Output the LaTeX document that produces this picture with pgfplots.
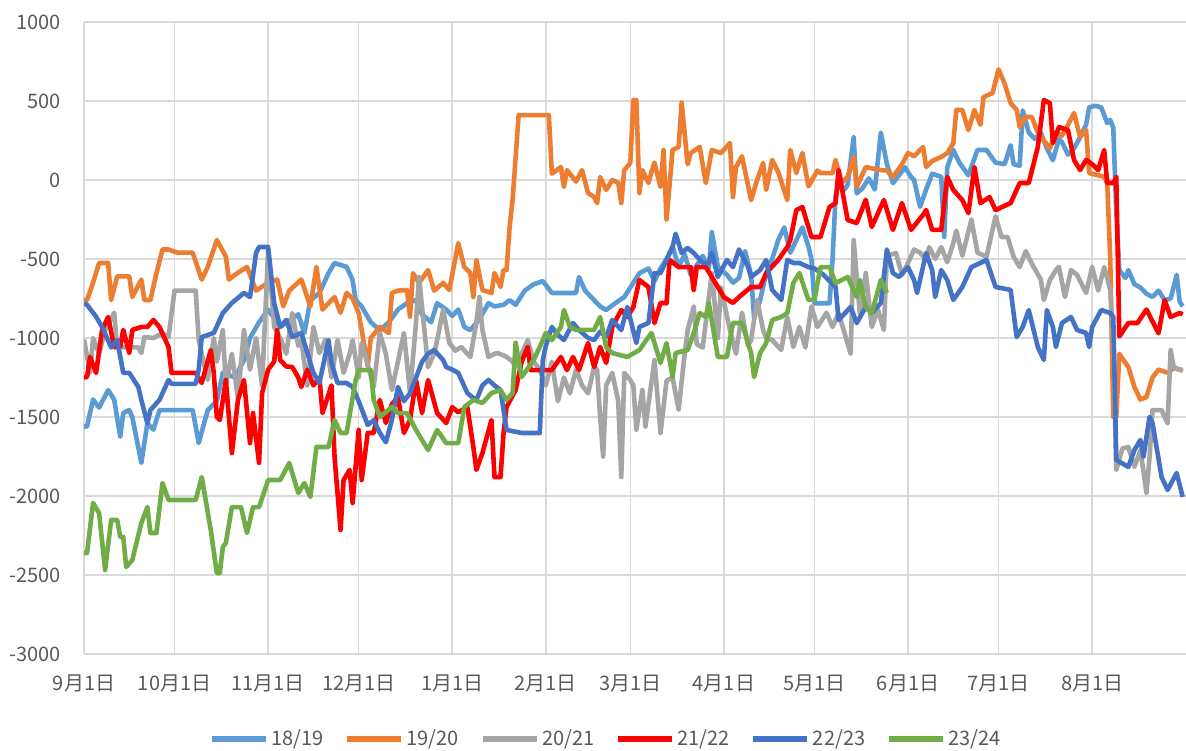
\documentclass[border=0pt]{standalone}
\usepackage{fontspec}
\setmainfont{Noto Sans CJK SC}
\usepackage{pgfplots}
\pgfplotsset{compat=1.18}
\definecolor{c1819}{HTML}{5B9BD5}
\definecolor{c1920}{HTML}{ED7D31}
\definecolor{c2021}{HTML}{A5A5A5}
\definecolor{c2122}{HTML}{FF0000}
\definecolor{c2223}{HTML}{4472C4}
\definecolor{c2324}{HTML}{70AD47}
\definecolor{txt}{HTML}{595959}
\definecolor{grd}{HTML}{D9D9D9}
\begin{document}
\begin{tikzpicture}
\path[use as bounding box] (-42pt,-48pt) rectangle (551pt,327pt);
\begin{axis}[
  scale only axis, width=551pt, height=316pt,
  xmin=0, xmax=365.1, ymin=-3000, ymax=1000,
  xtick={0,30,61,91,122,153,181,212,242,273,303,334},
  xticklabels={9月1日,10月1日,11月1日,12月1日,1月1日,2月1日,3月1日,4月1日,5月1日,6月1日,7月1日,8月1日},
  ytick={-3000,-2500,-2000,-1500,-1000,-500,0,500,1000},
  /pgf/number format/assume math mode=true,
  /pgf/number format/1000 sep={},
  axis line style={draw=none},
  tick style={draw=none},
  grid=major, grid style={grd, line width=0.8pt},
  tick label style={font=\fontsize{10}{12}\selectfont, text=txt},
  yticklabel style={xshift=-8pt},
  xticklabel style={yshift=-7pt},
  legend columns=6,
  legend style={at={(0.474,-0.1345)}, anchor=center, draw=none, fill=none,
    font=\fontsize{10}{12}\selectfont, text=txt,
    /tikz/every even column/.append style={column sep=9pt},
    nodes={inner xsep=1.5pt},
    inner sep=0pt},
  legend image code/.code={\draw[#1, line width=2.6pt] (0pt,0pt) -- (27pt,0pt);},
  every axis plot/.append style={line width=2.3pt, line join=round, mark=none},
]
\addplot[c1819] coordinates {
(0,-1560)(1,-1560)(3,-1390)(5,-1440)(8,-1330)(10,-1390)(12,-1625)(13,-1475)(15,-1456)(16,-1500)(19,-1790)(21,-1540)(23,-1580)(25,-1456)(30,-1456)(36,-1456)(38,-1665)(41,-1456)(44,-1400)(46,-1220)(50,-1250)(53,-1140)(55,-1000)(58,-900)(61,-820)(65,-930)(71,-850)(73,-970)(75,-760)(78,-715)(81,-590)(83,-525)(87,-550)(89,-633)(90,-760)(92,-800)(95,-900)(98,-950)(101,-900)(104,-820)(107,-780)(110,-760)(112,-850)(115,-900)(117,-780)(120,-820)(122,-860)(124,-820)(126,-930)(128,-950)(131,-880)(134,-780)(136,-800)(139,-790)(141,-760)(143,-790)(146,-700)(149,-660)(152,-640)(155,-715)(160,-715)(163,-715)(164,-614)(166,-700)(168,-740)(171,-800)(173,-823)(176,-780)(179,-740)(182,-650)(184,-590)
(187,-560)(189,-640)(191,-560)(193,-500)(195,-420)(197,-550)(199,-470)(201,-600)(203,-540)(205,-480)(207,-560)(208,-330)(210,-550)(213,-600)(215,-650)(217,-620)(219,-450)(221,-600)(222,-870)(224,-760)(226,-590)(228,-500)(230,-380)(232,-300)(234,-460)(236,-380)(238,-300)(240,-420)(241,-500)(242,-780)(245,-780)(247,-780)(248,-500)(249,-100)(250,-20)(252,-60)(253,-30)(255,270)(256,-85)(258,-50)(260,10)(262,-60)(264,300)(266,100)(268,-20)(270,30)(272,80)(274,20)(275,0)(277,-170)(279,-60)(281,40)(284,20)(285,-360)(286,80)(288,190)(290,110)(293,30)(296,190)(299,190)(302,110)(305,100)(307,220)(308,100)(310,90)(311,440)(313,300)(315,260)(317,300)(319,200)(321,125)(323,260)(324,240)(326,160)(328,200)(330,270)(332,350)(333,460)(335,470)(337,460)(339,360)(340,380)(341,330)(342,-200)(343,-570)(345,-620)(346,-570)(348,-660)(350,-680)(352,-720)(354,-740)(356,-700)(358,-760)(360,-750)(362,-600)(363,-770)(364,-800)
};
\addlegendentry{18/19}
\addplot[c1920] coordinates {
(0,-760)(1,-760)(3,-650)(5,-525)(8,-525)(9,-760)(11,-610)(15,-610)(16,-740)(19,-630)(20,-760)(22,-760)(24,-590)(26,-440)(28,-440)(31,-460)(33,-460)(36,-460)(39,-630)(41,-550)(44,-380)(47,-485)(48,-630)(50,-600)(54,-550)(57,-700)(61,-650)(64,-630)(66,-800)(68,-700)(72,-630)(75,-800)(77,-550)(79,-820)(83,-741)(85,-840)(87,-715)(89,-750)(91,-842)(92,-950)(94,-1180)(95,-1000)(98,-930)(101,-968)(102,-715)(104,-700)(107,-696)(108,-865)(109,-590)(111,-652)(114,-570)(116,-700)(119,-652)(121,-696)(124,-400)(126,-551)(128,-589)(129,-741)(130,-506)(132,-696)(135,-715)(136,-589)(138,-677)(139,-570)(140,-570)(141,-300)(142,-125)(144,411)(150,411)(154,411)(155,40)(158,82)(159,-44)(160,63)(163,-10)(165,63)(167,-82)(169,-108)(170,-146)(171,19)(173,-63)(175,0)(177,-19)(178,-146)(179,63)(181,108)(182,506)(183,506)(184,-82)(185,63)(187,-19)(188,50)(189,110)(191,-44)(192,190)(193,-250)(195,190)(197,210)(198,490)(200,100)(201,170)(204,210)(206,-19)(208,190)(211,171)(214,234)(215,-108)(216,82)(218,150)(221,-127)(223,0)(225,108)(226,-63)(228,127)(230,50)(233,-127)(234,190)(236,44)(238,171)(240,-40)(243,60)(244,44)(248,44)(249,127)(251,-19)(253,20)(255,146)(256,-44)(259,82)(262,70)(264,63)(266,60)(268,19)(271,100)(273,171)(275,150)(278,209)(279,82)(281,120)(284,146)(286,170)(288,234)(289,443)(291,443)(293,316)(295,443)(297,350)(298,525)(301,550)(303,700)(305,610)(307,487)(309,443)(310,335)(312,399)(314,399)(316,300)(318,250)(320,200)(322,300)(324,280)(326,350)(328,424)(330,272)(332,316)(333,44)(336,30)(338,20)(339,-20)(340,-500)(341,-1500)(342,-1500)(343,-1100)(346,-1184)(348,-1310)(350,-1390)(352,-1373)(354,-1250)(356,-1200)(359,-1220)(361,-1190)(363,-1200)(364,-1200)
};
\addlegendentry{19/20}
\addplot[c2021] coordinates {
(0,-1010)(2,-1220)(3,-1000)(5,-1100)(7,-950)(10,-840)(11,-1060)(15,-1057)(18,-1060)(19,-1095)(20,-994)(23,-1000)(26,-970)(28,-994)(30,-700)(37,-700)(38,-1013)(39,-1100)(41,-1265)(43,-1000)(44,-1150)(46,-950)(47,-1300)(49,-1100)(51,-1380)(53,-950)(55,-1200)(57,-1000)(59,-1300)(61,-440)(63,-930)(65,-1000)(67,-1100)(69,-842)(71,-1050)(72,-1013)(74,-1300)(76,-930)(78,-1095)(80,-1010)(82,-1250)(84,-1013)(86,-1221)(88,-1100)(89,-1013)(91,-1250)(92,-1030)(96,-1310)(98,-968)(100,-1100)(102,-1329)(104,-1150)(106,-968)(108,-1348)(110,-900)(111,-614)(114,-1184)(116,-1100)(117,-1013)(119,-820)(121,-1030)(123,-1080)(125,-1057)(127,-1100)(128,-1120)(130,-900)(131,-741)(132,-950)(134,-1120)(136,-1100)(137,-1095)(139,-1110)(140,-1120)(142,-1150)(143,-1184)(145,-1100)(147,-1013)(149,-1150)(151,-1200)(153,-1300)(155,-1150)(157,-1400)(159,-1250)(161,-1350)(163,-1200)(165,-1300)(167,-1350)(169,-1184)(170,-1200)(171,-1500)(172,-1750)(173,-1300)(175,-1221)(177,-1400)(178,-1880)(179,-1221)(181,-1266)(182,-1300)(183,-1580)(185,-1329)(186,-1560)(189,-1140)(191,-1600)(193,-1270)(195,-1250)(197,-1455)(199,-1100)(200,-950)(202,-800)(203,-1040)(205,-1060)(206,-900)(208,-590)(210,-1000)(211,-680)(214,-950)(216,-1100)(218,-840)(220,-1050)(221,-1013)(223,-759)(225,-950)(226,-1000)(228,-1013)(231,-1076)(233,-867)(235,-1057)(237,-930)(239,-1060)(241,-800)(243,-930)(246,-840)(248,-930)(250,-842)(254,-1100)(255,-380)(257,-842)(259,-589)(261,-930)(263,-820)(265,-949)(266,-480)(269,-462)(271,-600)(273,-525)(275,-440)(277,-460)(279,-506)(280,-425)(282,-500)(284,-425)(286,-520)(288,-400)(289,-320)(291,-480)(294,-250)(296,-460)(299,-485)(302,-230)(304,-361)(306,-361)(308,-487)(310,-551)(312,-450)(314,-530)(317,-630)(318,-760)(320,-633)(322,-570)(323,-550)(325,-740)(327,-570)(329,-600)(332,-715)(334,-550)(336,-700)(338,-551)(340,-696)(341,-1000)(342,-1835)(344,-1700)(346,-1690)(348,-1816)(350,-1709)(352,-1980)(353,-1760)(354,-1456)(357,-1456)(359,-1540)(360,-1076)(361,-1184)(363,-1200)(364,-1210)
};
\addlegendentry{20/21}
\addplot[c2122] coordinates {
(0,-1250)(1,-1247)(2,-1120)(4,-1221)(6,-949)(8,-867)(10,-1057)(12,-1057)(13,-949)(15,-1095)(16,-949)(19,-930)(21,-930)(23,-886)(25,-930)(28,-1057)(29,-1221)(37,-1221)(39,-1285)(42,-1076)(43,-1221)(44,-1500)(45,-1519)(47,-1266)(49,-1728)(51,-1392)(53,-1266)(55,-1665)(56,-1475)(58,-1790)(59,-1350)(61,-1200)(63,-1150)(64,-949)(65,-1139)(67,-1180)(69,-1184)(71,-1250)(72,-1310)(74,-1200)(76,-1300)(78,-1250)(79,-1475)(82,-1300)(83,-1750)(85,-2215)(86,-1899)(88,-1835)(89,-2044)(91,-1582)(92,-1899)(94,-1601)(96,-1601)(98,-1392)(100,-1538)(102,-1420)(104,-1373)(106,-1601)(108,-1519)(110,-1266)(112,-1475)(114,-1266)(117,-1475)(120,-1538)(122,-1437)(124,-1470)(127,-1437)(129,-1690)(130,-1835)(132,-1728)(135,-1519)(136,-1880)(138,-1880)(139,-1601)(140,-1437)(143,-1329)(145,-1150)(147,-1057)(148,-1203)(152,-1203)(155,-1203)(158,-1120)(160,-1203)(162,-1120)(164,-1203)(167,-1032)(169,-1184)(171,-1057)(173,-1158)(175,-930)(178,-823)(180,-867)(182,-804)(184,-633)(187,-677)(189,-905)(191,-778)(193,-780)(194,-506)(197,-551)(201,-551)(202,-696)(203,-551)(206,-551)(208,-614)(212,-741)(215,-778)(217,-741)(221,-677)(224,-677)(226,-589)(230,-506)(233,-424)(234,-380)(236,-190)(238,-171)(241,-361)(244,-361)(247,-171)(249,-146)(250,63)(253,-253)(256,-272)(259,-125)(261,-297)(265,-127)(268,-316)(271,-146)(274,-316)(278,-220)(279,-190)(281,-316)(284,-316)(286,19)(288,-63)(291,-127)(293,-209)(295,82)(297,-146)(300,-108)(302,-190)(307,-146)(310,-19)(313,-19)(316,209)(318,506)(320,487)(321,234)(323,335)(326,316)(328,127)(330,63)(332,127)(334,100)(336,63)(338,190)(339,-19)(341,-19)(342,20)(343,-990)(346,-905)(349,-905)(352,-820)(356,-970)(358,-760)(360,-867)(363,-842)(364,-850)
};
\addlegendentry{21/22}
\addplot[c2223] coordinates {
(0,-780)(1,-790)(4,-865)(6,-930)(9,-1060)(11,-1013)(13,-1221)(15,-1221)(18,-1310)(19,-1392)(21,-1540)(22,-1456)(25,-1392)(28,-1266)(29,-1290)(37,-1290)(38,-1200)(39,-994)(43,-968)(46,-842)(49,-778)(53,-715)(55,-741)(57,-462)(58,-424)(61,-424)(63,-778)(65,-930)(67,-886)(69,-994)(72,-968)(76,-1221)(78,-1285)(81,-1013)(82,-1158)(84,-1285)(87,-1285)(89,-1310)(91,-1400)(94,-1550)(96,-1520)(98,-1600)(100,-1660)(102,-1519)(104,-1310)(106,-1400)(108,-1350)(110,-1250)(112,-1150)(114,-1100)(116,-1076)(119,-1140)(120,-1184)(122,-1200)(124,-1221)(127,-1348)(129,-1380)(130,-1392)(132,-1300)(134,-1266)(136,-1300)(138,-1329)(140,-1582)(145,-1601)(151,-1601)(152,-1139)(153,-1050)(155,-930)(157,-980)(159,-1013)(162,-905)(164,-949)(167,-1000)(169,-1013)(171,-960)(173,-994)(175,-886)(178,-949)(180,-804)(183,-1032)(184,-930)(187,-905)(189,-589)(191,-589)(193,-506)(195,-424)(196,-340)(198,-462)(200,-430)(202,-462)(205,-525)(207,-525)(208,-460)(210,-614)(213,-506)(215,-551)(217,-440)(220,-551)(221,-614)(224,-570)(226,-506)(228,-696)(231,-759)(233,-506)(235,-525)(237,-525)(240,-551)(242,-560)(245,-600)(249,-677)(250,-886)(254,-804)(256,-905)(259,-804)(261,-842)(264,-778)(266,-440)(268,-589)(270,-614)(273,-551)(275,-633)(276,-715)(279,-462)(281,-570)(282,-741)(284,-570)(286,-633)(288,-759)(291,-677)(294,-551)(297,-525)(299,-506)(302,-677)(307,-696)(309,-994)(311,-930)(313,-823)(316,-1057)(318,-1139)(319,-823)(321,-930)(322,-1057)(324,-905)(327,-867)(329,-949)(332,-968)(333,-1057)(334,-930)(337,-823)(340,-842)(341,-867)(342,-1772)(346,-1816)(348,-1709)(350,-1645)(351,-1753)(353,-1500)(354,-1538)(357,-1880)(359,-1962)(362,-1854)(364,-2006)
};
\addlegendentry{22/23}
\addplot[c2324] coordinates {
(0,-2361)(1,-2361)(3,-2044)(5,-2108)(7,-2468)(9,-2152)(11,-2152)(12,-2259)(13,-2259)(14,-2449)(16,-2405)(19,-2171)(21,-2070)(22,-2234)(24,-2234)(26,-1918)(28,-2025)(37,-2025)(39,-1880)(42,-2215)(44,-2487)(45,-2487)(46,-2323)(47,-2297)(49,-2070)(52,-2070)(54,-2234)(56,-2070)(58,-2070)(61,-1899)(65,-1899)(68,-1791)(71,-1981)(73,-1918)(75,-2006)(77,-1690)(81,-1690)(83,-1519)(85,-1601)(87,-1601)(90,-1266)(91,-1203)(95,-1203)(96,-1392)(98,-1500)(102,-1437)(104,-1475)(107,-1475)(110,-1582)(114,-1709)(117,-1582)(120,-1665)(124,-1665)(126,-1437)(129,-1392)(132,-1411)(135,-1348)(138,-1329)(140,-1392)(142,-1348)(143,-1030)(145,-1247)(149,-1139)(151,-1057)(153,-968)(155,-1013)(158,-930)(159,-823)(161,-930)(163,-949)(169,-949)(171,-867)(173,-1057)(175,-1095)(180,-1120)(184,-1076)(187,-994)(188,-968)(191,-1158)(193,-1032)(195,-1247)(196,-1095)(200,-1076)(202,-968)(204,-842)(206,-867)(207,-778)(210,-1120)(213,-1120)(215,-905)(218,-905)(221,-1095)(222,-1247)(224,-1095)(226,-1032)(228,-886)(231,-867)(233,-842)(235,-652)(237,-589)(240,-759)(242,-759)(244,-551)(247,-551)(249,-652)(253,-614)(256,-741)(257,-633)(259,-804)(261,-842)(264,-633)(266,-715)
};
\addlegendentry{23/24}
\end{axis}
\end{tikzpicture}
\end{document}
